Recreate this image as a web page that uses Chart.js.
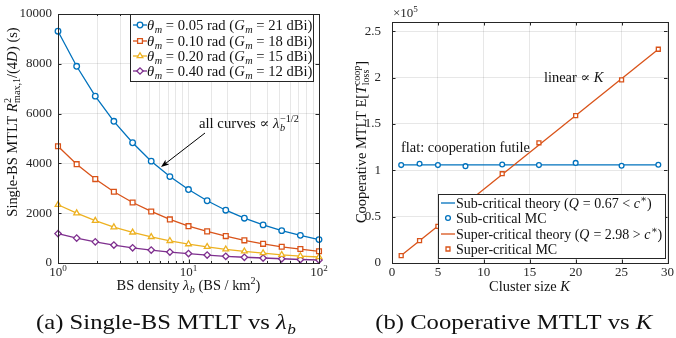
<!DOCTYPE html>
<html>
<head>
<meta charset="utf-8">
<script src="https://cdn.jsdelivr.net/npm/chart.js@4.4.0/dist/chart.umd.min.js"></script>
<style>
  html, body { margin: 0; padding: 0; background: #fff; }
  #wrap { position: relative; width: 676px; height: 338px; }
  canvas { position: absolute; left: 0; top: 0; }
</style>
</head>
<body>
<div id="wrap">
  <canvas id="left" width="676" height="338"></canvas>
  <canvas id="right" width="676" height="338"></canvas>
</div>
<script>
// (a) single-BS MTLT vs BS density
const lambdaB = [1, 1.39, 1.93, 2.68, 3.73, 5.18, 7.2, 10, 13.9, 19.3, 26.8, 37.3, 51.8, 72, 100];
const mtlt005 = [9310, 7900, 6700, 5690, 4830, 4090, 3470, 2950, 2500, 2120, 1800, 1530, 1300, 1110, 940];
const mtlt010 = [4690, 3970, 3370, 2860, 2430, 2070, 1750, 1480, 1270, 1080, 910, 770, 650, 560, 470];
const mtlt020 = [2340, 2000, 1700, 1440, 1230, 1050, 890, 760, 650, 550, 470, 400, 330, 280, 240];
const mtlt040 = [1180, 1000, 850, 720, 610, 520, 440, 380, 320, 270, 230, 200, 170, 140, 120];
const leftLabels = [
  '*θ*_{*m*} = 0.05 rad (*G*_{*m*} = 21 dBi)',
  '*θ*_{*m*} = 0.10 rad (*G*_{*m*} = 18 dBi)',
  '*θ*_{*m*} = 0.20 rad (*G*_{*m*} = 15 dBi)',
  '*θ*_{*m*} = 0.40 rad (*G*_{*m*} = 12 dBi)'
];

// (b) cooperative MTLT vs cluster size, values in units of 1e5
const clusterK = [1, 3, 5, 8, 12, 16, 20, 25, 29];
const subMC = [1.056, 1.07, 1.056, 1.045, 1.062, 1.056, 1.08, 1.049, 1.06];
const superMC = [0.08, 0.241, 0.395, 0.64, 0.963, 1.297, 1.59, 1.976, 2.306];
const theoryK = [1, 29];
const subTheory = [1.058, 1.058];
const superTheory = [0.08, 2.306];
const rightLabels = [
  'Sub-critical theory (*Q* = 0.67 < *c*^{∗})',
  'Sub-critical MC',
  'Super-critical theory (*Q* = 2.98 > *c*^{∗})',
  'Super-critical MC'
];

const FONT = '"Liberation Serif", "DejaVu Serif", serif';
const INK = '#262626';
const C = ['#0072BD', '#D95319', '#EDB120', '#7E2F8E'];
const GRID = 'rgba(38,38,38,0.11)';
const STYLES = ['circle', 'rect', 'triangle', 'rectRot'];
const RADII = [2.8, 3.4, 3.3, 3.2];

Chart.defaults.font.family = FONT;
Chart.defaults.font.size = 13;
Chart.defaults.color = INK;

// tiny rich text: *..* italic, _{..} sub, ^{..} sup
function parseRich(s) {
  const segs = [];
  let it = false, mode = 0, g = 0, buf = '';
  const flush = () => { if (buf) segs.push({ t: buf, it, mode, g }); buf = ''; };
  for (let i = 0; i < s.length; i++) {
    const c = s[i];
    if (c === '*') { flush(); it = !it; }
    else if ((c === '_' || c === '^') && s[i + 1] === '{') { flush(); mode = c === '_' ? -1 : 1; g++; i++; }
    else if (c === '}' && mode) { flush(); mode = 0; g++; }
    else buf += c;
  }
  flush();
  return segs;
}

function layoutRich(ctx, segs, size) {
  let x = 0, sStart = 0, sEnd = 0, prev = null;
  const out = [];
  for (const s of segs) {
    const fs = s.mode ? size * 0.7 : size;
    ctx.font = (s.it ? 'italic ' : '') + fs + 'px ' + FONT;
    if (s.mode) {
      if (!prev || !prev.mode) { sStart = x; sEnd = x; }
      else if (prev.g !== s.g && prev.mode !== s.mode) x = sStart;
    } else if (prev && prev.mode) {
      x = Math.max(x, sEnd);
    }
    out.push({ t: s.t, mode: s.mode, x, font: ctx.font });
    x += ctx.measureText(s.t).width + (s.it && !s.mode ? 0.5 : 0);
    if (s.mode) sEnd = Math.max(sEnd, x);
    prev = s;
  }
  if (prev && prev.mode) x = Math.max(x, sEnd);
  return { items: out, width: x };
}

// stretch widens the glyphs a little to get closer to Computer Modern proportions
function drawRich(ctx, text, x, y, size, align, color, stretch) {
  const k = stretch || 1.03;
  const L = layoutRich(ctx, parseRich(text), size);
  const w = L.width * k;
  const x0 = align === 'center' ? x - w / 2 : align === 'right' ? x - w : x;
  ctx.save();
  ctx.translate(x0, y);
  ctx.scale(k, 1);
  ctx.fillStyle = color || '#111';
  ctx.textAlign = 'left';
  ctx.textBaseline = 'alphabetic';
  for (const it of L.items) {
    ctx.font = it.font;
    const dy = it.mode === -1 ? size * 0.22 : it.mode === 1 ? -size * 0.4 : 0;
    ctx.fillText(it.t, it.x, dy);
  }
  ctx.restore();
}

function drawRichRot(ctx, text, x, y, size) {
  ctx.save();
  ctx.translate(x, y);
  ctx.rotate(-Math.PI / 2);
  drawRich(ctx, text, 0, 0, size, 'center');
  ctx.restore();
}

function marker(ctx, style, r, color, x, y) {
  ctx.save();
  ctx.fillStyle = '#fff';
  ctx.strokeStyle = color;
  ctx.lineWidth = 1.3;
  Chart.helpers.drawPoint(ctx, { pointStyle: style, radius: r, rotation: 0, borderWidth: 1.3 }, x, y);
  ctx.restore();
}

function drawLegend(ctx, box, rows, size, stretch) {
  ctx.save();
  ctx.fillStyle = '#fff';
  ctx.fillRect(box.x, box.y, box.w, box.h);
  ctx.strokeStyle = INK;
  ctx.lineWidth = 1;
  ctx.strokeRect(box.x + 0.5, box.y + 0.5, box.w, box.h);
  rows.forEach((r, i) => {
    const cy = box.rowY[i];
    const x1 = box.x + 3, x2 = box.x + 17;
    if (r.line) {
      ctx.strokeStyle = r.color;
      ctx.lineWidth = 1.3;
      ctx.beginPath();
      ctx.moveTo(x1, cy);
      ctx.lineTo(x2, cy);
      ctx.stroke();
    }
    if (r.style) marker(ctx, r.style, r.radius, r.color, (x1 + x2) / 2, cy);
    drawRich(ctx, r.label, box.textX, cy + 5, size, 'left', '#111', stretch);
  });
  ctx.restore();
}

function isDecade(v) {
  const l = Math.log10(v);
  return Math.abs(l - Math.round(l)) < 1e-9;
}

function tickMarks(chart, xLen, yLen) {
  const { ctx, chartArea: a, scales: { x, y } } = chart;
  ctx.save();
  ctx.strokeStyle = INK;
  ctx.lineWidth = 1;
  ctx.beginPath();
  x.ticks.forEach(t => {
    const px = Math.round(x.getPixelForValue(t.value)) + 0.5;
    const len = xLen(t.value);
    ctx.moveTo(px, a.bottom); ctx.lineTo(px, a.bottom - len);
    ctx.moveTo(px, a.top); ctx.lineTo(px, a.top + len);
  });
  y.ticks.forEach(t => {
    const py = Math.round(y.getPixelForValue(t.value)) + 0.5;
    ctx.moveTo(a.left, py); ctx.lineTo(a.left + yLen, py);
    ctx.moveTo(a.right, py); ctx.lineTo(a.right - yLen, py);
  });
  ctx.stroke();
  ctx.strokeRect(Math.round(a.left) + 0.5, Math.round(a.top) + 0.5,
    Math.round(a.right - a.left), Math.round(a.bottom - a.top));
  ctx.restore();
}

const leftDecor = {
  id: 'leftDecor',
  afterDraw(chart) {
    const { ctx, chartArea: a, scales: { x } } = chart;
    tickMarks(chart, v => (isDecade(v) ? 3.5 : 2), 3.5);
    ctx.save();
    x.ticks.filter(t => isDecade(t.value)).forEach(t => {
      drawRich(ctx, '10^{' + Math.round(Math.log10(t.value)) + '}', x.getPixelForValue(t.value), a.bottom + 13, 13, 'center', INK, 1);
    });
    drawRich(ctx, 'BS density *λ*_{*b*} (BS / km^{2})', (a.left + a.right) / 2, 290, 14, 'center');
    drawRichRot(ctx, 'Single-BS MTLT *R*^{2}_{max,1}/(4*D*) (s)', 17, 122, 14);
    // annotation arrow
    ctx.strokeStyle = '#000';
    ctx.fillStyle = '#000';
    ctx.lineWidth = 1;
    const ax0 = 205, ay0 = 133, ax1 = 161, ay1 = 167;
    const ang = Math.atan2(ay1 - ay0, ax1 - ax0);
    ctx.beginPath();
    ctx.moveTo(ax0, ay0);
    ctx.lineTo(ax1 - 5 * Math.cos(ang), ay1 - 5 * Math.sin(ang));
    ctx.stroke();
    ctx.beginPath();
    ctx.moveTo(ax1, ay1);
    ctx.lineTo(ax1 - 8 * Math.cos(ang) + 3 * Math.sin(ang), ay1 - 8 * Math.sin(ang) - 3 * Math.cos(ang));
    ctx.lineTo(ax1 - 6 * Math.cos(ang), ay1 - 6 * Math.sin(ang));
    ctx.lineTo(ax1 - 8 * Math.cos(ang) - 3 * Math.sin(ang), ay1 - 8 * Math.sin(ang) + 3 * Math.cos(ang));
    ctx.closePath();
    ctx.fill();
    drawRich(ctx, 'all curves ∝ *λ*_{*b*}^{−1/2}', 199, 128, 14, 'left', '#111', 1.05);
    drawLegend(ctx, { x: 130, y: 14, w: 183, h: 67, textX: 147, rowY: [25, 41, 56, 71] },
      leftLabels.map((l, i) => ({ label: l, color: C[i], line: true, style: STYLES[i], radius: RADII[i] })), 14, 1.045);
    drawRich(ctx, '(a) Single-BS MTLT vs *λ*_{*b*}', 166, 329, 22, 'center', '#111', 1.12);
    ctx.restore();
  }
};

const rightDecor = {
  id: 'rightDecor',
  afterDraw(chart) {
    const { ctx, chartArea: a } = chart;
    tickMarks(chart, () => 3.5, 3.5);
    ctx.save();
    drawRich(ctx, '×10^{5}', 393, 17, 13, 'left', INK, 1);
    drawRich(ctx, 'Cluster size *K*', (a.left + a.right) / 2, 291, 14, 'center');
    drawRichRot(ctx, 'Cooperative MTLT E[*T*^{coop}_{loss}]', 366, 142, 14);
    drawRich(ctx, 'flat: cooperation futile', 401, 152, 14, 'left');
    drawRich(ctx, 'linear ∝ *K*', 544, 82, 14, 'left');
    drawLegend(ctx, { x: 438, y: 194, w: 227, h: 64, textX: 456, rowY: [203, 218, 234, 249] }, [
      { label: rightLabels[0], color: C[0], line: true },
      { label: rightLabels[1], color: C[0], style: 'circle', radius: 2.4 },
      { label: rightLabels[2], color: C[1], line: true },
      { label: rightLabels[3], color: C[1], style: 'rect', radius: 2.8 }
    ], 14, 1.0);
    drawRich(ctx, '(b) Cooperative MTLT vs *K*', 514, 329, 22, 'center', '#111', 1.12);
    ctx.restore();
  }
};

function curve(arr, i) {
  return {
    data: lambdaB.map((v, k) => ({ x: v, y: arr[k] })),
    borderColor: C[i],
    borderWidth: 1.3,
    pointStyle: STYLES[i],
    pointRadius: RADII[i],
    pointBorderWidth: 1.3,
    pointBackgroundColor: '#fff',
    pointBorderColor: C[i],
    tension: 0,
    clip: false
  };
}

new Chart(document.getElementById('left'), {
  type: 'line',
  data: { datasets: [curve(mtlt005, 0), curve(mtlt010, 1), curve(mtlt020, 2), curve(mtlt040, 3)] },
  options: {
    responsive: false,
    animation: false,
    events: [],
    layout: { padding: { left: 0, top: 14, right: 357, bottom: 0 } },
    plugins: { legend: { display: false }, tooltip: { enabled: false } },
    scales: {
      x: {
        type: 'logarithmic', min: 1, max: 100,
        afterFit: s => { s.height = 75; },
        ticks: { display: false, autoSkip: false },
        grid: { color: GRID, drawTicks: false },
        border: { display: false }
      },
      y: {
        min: 0, max: 10000,
        afterFit: s => { s.width = 58; },
        ticks: { stepSize: 2000, padding: 6, callback: v => String(v) },
        grid: { color: GRID, drawTicks: false },
        border: { display: false }
      }
    }
  },
  plugins: [leftDecor]
});

function pts(xs, ys) { return xs.map((v, k) => ({ x: v, y: ys[k] })); }

new Chart(document.getElementById('right'), {
  type: 'line',
  data: {
    datasets: [
      { data: pts(theoryK, subTheory), borderColor: C[0], borderWidth: 1.3, pointRadius: 0, order: 4, clip: false },
      { data: pts(clusterK, subMC), showLine: false, pointStyle: 'circle', pointRadius: 2.4, pointBorderWidth: 1.3,
        pointBorderColor: C[0], pointBackgroundColor: '#fff', order: 3, clip: false },
      { data: pts(theoryK, superTheory), borderColor: C[1], borderWidth: 1.3, pointRadius: 0, order: 2, clip: false },
      { data: pts(clusterK, superMC), showLine: false, pointStyle: 'rect', pointRadius: 2.8, pointBorderWidth: 1.3,
        pointBorderColor: C[1], pointBackgroundColor: '#fff', order: 1, clip: false }
    ]
  },
  options: {
    responsive: false,
    animation: false,
    events: [],
    layout: { padding: { left: 338, top: 22, right: 6, bottom: 0 } },
    plugins: { legend: { display: false }, tooltip: { enabled: false } },
    scales: {
      x: {
        type: 'linear', min: 0, max: 30,
        afterFit: s => { s.height = 75; },
        ticks: { stepSize: 5, padding: 2 },
        grid: { color: GRID, drawTicks: false },
        border: { display: false }
      },
      y: {
        min: 0, max: 2.6,
        afterFit: s => { s.width = 54; },
        ticks: { stepSize: 0.5, includeBounds: false, padding: 11, callback: v => String(Math.round(v * 10) / 10) },
        grid: { color: GRID, drawTicks: false },
        border: { display: false }
      }
    }
  },
  plugins: [rightDecor]
});
</script>
</body>
</html>
